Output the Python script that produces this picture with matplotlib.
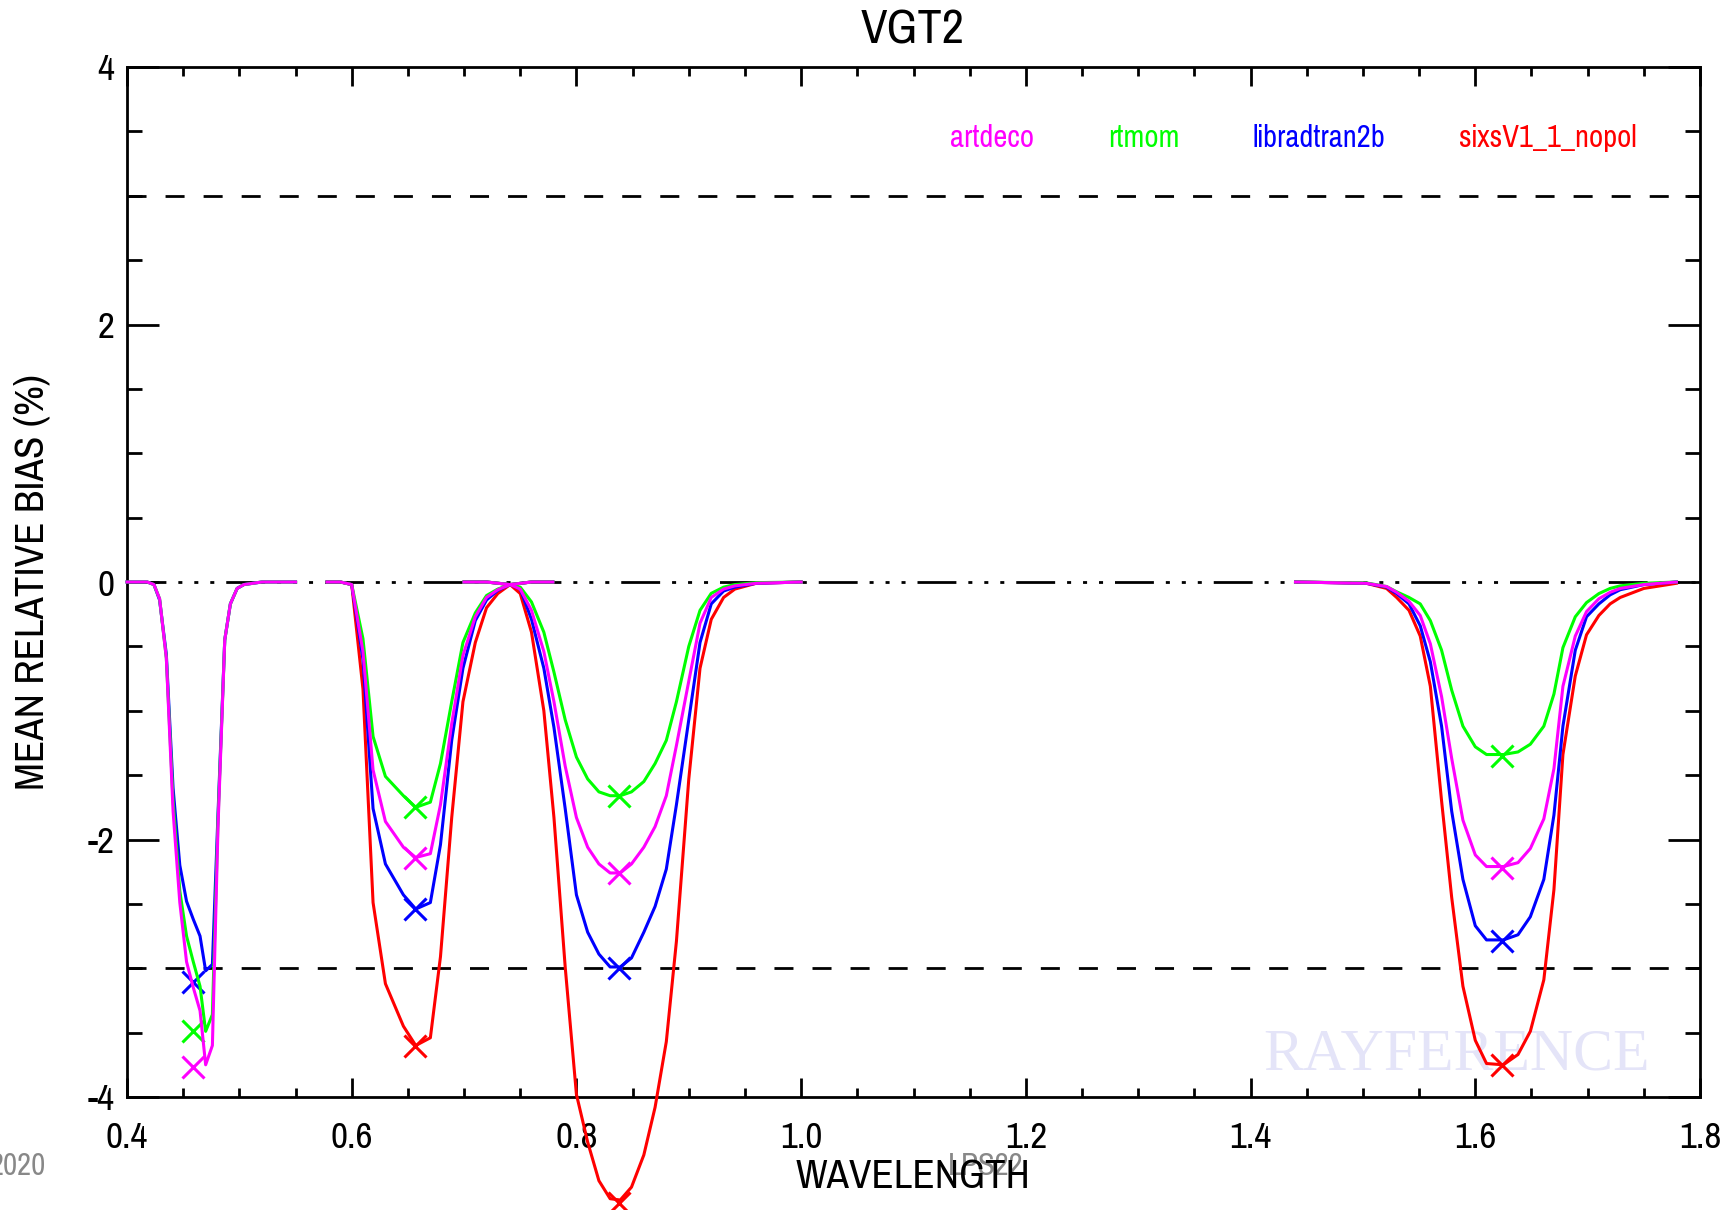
"""
VGT2 band: mean relative bias of RT models vs wavelength
"""

import numpy as np
import matplotlib
matplotlib.use("Agg")
import matplotlib.pyplot as plt
from matplotlib import font_manager
from matplotlib.ticker import MultipleLocator, FormatStrFormatter

# ============== data ==============
TITLE = "VGT2"
MODELS = ["artdeco", "rtmom", "libradtran2b", "sixsV1_1_nopol"]
COLORS = ["#ff00ff", "#00ff00", "#0000ff", "#ff0000"]

# band 1 (blue)
X_B1 = [0.400, 0.418, 0.424, 0.429, 0.435, 0.441, 0.447, 0.453, 0.459, 0.465,
        0.470, 0.476, 0.481, 0.487, 0.492, 0.498, 0.504, 0.520, 0.550]
B1_ARTDECO = [0, 0, -0.02, -0.13, -0.59, -1.78, -2.49, -2.95, -3.15, -3.33,
              -3.75, -3.60, -1.90, -0.45, -0.17, -0.05, -0.02, 0, 0]
B1_RTMOM = [0, 0, -0.02, -0.13, -0.59, -1.70, -2.40, -2.75, -2.95, -3.14,
            -3.49, -3.36, -1.85, -0.45, -0.17, -0.05, -0.02, 0, 0]
B1_LIBRADTRAN = [0, 0, -0.02, -0.14, -0.56, -1.60, -2.20, -2.48, -2.62, -2.75,
                 -3.02, -2.97, -1.80, -0.45, -0.17, -0.05, -0.02, 0, 0]

# band 2 (red)
X_B2 = [0.578, 0.590, 0.600, 0.610, 0.619, 0.630, 0.646, 0.657, 0.670, 0.679,
        0.689, 0.699, 0.710, 0.720, 0.730, 0.741, 0.760, 0.779]
B2_ARTDECO = [0, 0, -0.02, -0.54, -1.46, -1.86, -2.06, -2.14, -2.11, -1.73,
              -1.10, -0.57, -0.27, -0.12, -0.06, -0.02, 0, 0]
B2_RTMOM = [0, 0, -0.02, -0.44, -1.20, -1.51, -1.66, -1.75, -1.71, -1.41,
            -0.93, -0.47, -0.24, -0.105, -0.055, -0.02, 0, 0]
B2_LIBRADTRAN = [0, 0, -0.02, -0.60, -1.76, -2.19, -2.43, -2.54, -2.49, -2.04,
                 -1.23, -0.67, -0.30, -0.14, -0.065, -0.02, 0, 0]
B2_SIXS = [0, 0, -0.02, -0.83, -2.49, -3.12, -3.45, -3.60, -3.54, -2.91,
           -1.83, -0.93, -0.47, -0.20, -0.09, -0.02, 0, 0]

# band 3 (nir)
X_B3 = [0.700, 0.720, 0.741, 0.750, 0.760, 0.771, 0.780, 0.790, 0.800, 0.810,
        0.820, 0.830, 0.839, 0.849, 0.860, 0.870, 0.880, 0.889, 0.900, 0.910,
        0.920, 0.931, 0.941, 0.960, 1.000]
B3_ARTDECO = [0, 0, -0.02, -0.055, -0.22, -0.54, -0.93, -1.43, -1.83, -2.06,
              -2.19, -2.26, -2.26, -2.19, -2.06, -1.90, -1.66, -1.27, -0.77, -0.32,
              -0.12, -0.055, -0.03, -0.01, 0]
B3_RTMOM = [0, 0, -0.02, -0.04, -0.155, -0.39, -0.70, -1.07, -1.36, -1.53,
            -1.63, -1.66, -1.66, -1.63, -1.55, -1.41, -1.23, -0.93, -0.50, -0.22,
            -0.088, -0.04, -0.02, -0.005, 0]
B3_LIBRADTRAN = [0, 0, -0.02, -0.055, -0.29, -0.67, -1.13, -1.76, -2.43, -2.72,
                 -2.89, -2.99, -2.99, -2.92, -2.72, -2.52, -2.23, -1.73, -1.07, -0.47,
                 -0.17, -0.07, -0.04, -0.01, 0]
B3_SIXS = [0, 0, -0.02, -0.09, -0.39, -1.00, -1.83, -2.99, -3.98, -4.35,
           -4.65, -4.79, -4.80, -4.70, -4.45, -4.08, -3.57, -2.79, -1.53, -0.67,
           -0.29, -0.12, -0.055, -0.01, 0]

# band 4 (swir)
X_B4 = [1.440, 1.503, 1.521, 1.530, 1.541, 1.551, 1.560, 1.570, 1.579, 1.589,
        1.600, 1.610, 1.625, 1.638, 1.649, 1.661, 1.670, 1.678, 1.689, 1.699,
        1.710, 1.720, 1.729, 1.750, 1.779]
B4_ARTDECO = [0, -0.01, -0.035, -0.08, -0.15, -0.26, -0.48, -0.89, -1.37, -1.85,
              -2.12, -2.21, -2.21, -2.18, -2.07, -1.84, -1.45, -0.81, -0.42, -0.23,
              -0.13, -0.08, -0.05, -0.02, 0]
B4_RTMOM = [0, -0.007, -0.035, -0.076, -0.12, -0.17, -0.30, -0.53, -0.84, -1.12,
            -1.28, -1.34, -1.34, -1.32, -1.26, -1.12, -0.87, -0.51, -0.27, -0.16,
            -0.09, -0.05, -0.03, -0.01, 0]
B4_LIBRADTRAN = [0, -0.01, -0.04, -0.09, -0.17, -0.34, -0.62, -1.12, -1.78, -2.31,
                 -2.67, -2.78, -2.78, -2.74, -2.60, -2.31, -1.81, -1.12, -0.53, -0.27,
                 -0.17, -0.10, -0.06, -0.02, 0]
B4_SIXS = [0, -0.01, -0.05, -0.12, -0.22, -0.42, -0.81, -1.70, -2.45, -3.14,
           -3.56, -3.74, -3.75, -3.67, -3.49, -3.09, -2.39, -1.34, -0.73, -0.41,
           -0.26, -0.17, -0.12, -0.05, -0.01]

# band averaged bias (crosses)
BAND_CENTERS = [0.459, 0.656, 0.838, 1.624]
MARK_ARTDECO = [-3.77, -2.14, -2.26, -2.22]
MARK_RTMOM = [-3.49, -1.75, -1.66, -1.35]
MARK_LIBRADTRAN = [-3.11, -2.54, -3.00, -2.79]
MARK_SIXS = [np.nan, -3.60, -4.82, -3.75]

# ============== fonts ==============
names = {f.name for f in font_manager.fontManager.ttflist}
FONT = "Pragati Narrow" if "Pragati Narrow" in names else "Liberation Sans"
plt.rcParams["font.family"] = [FONT, "DejaVu Sans"]
plt.rcParams["axes.unicode_minus"] = False
plt.rcParams["lines.scale_dashes"] = False

# ============== plot ==============
fig = plt.figure(figsize=(17.28, 12.10), dpi=100)
ax = fig.add_axes([127 / 1728, 1 - 1097 / 1210, 1573 / 1728, 1030 / 1210])

# reference lines
ax.axhline(3, color="black", lw=2, dashes=(13.7, 13.7), zorder=1)
ax.axhline(-3, color="black", lw=2, dashes=(13.7, 13.7), zorder=1)
ax.axhline(0, color="black", lw=2,
           dashes=(28, 8.6, 2.9, 8.6, 2.9, 8.6, 2.9, 8.6), zorder=1)

bands = [
    (X_B1, [B1_ARTDECO, B1_RTMOM, B1_LIBRADTRAN, None]),
    (X_B2, [B2_ARTDECO, B2_RTMOM, B2_LIBRADTRAN, B2_SIXS]),
    (X_B3, [B3_ARTDECO, B3_RTMOM, B3_LIBRADTRAN, B3_SIXS]),
    (X_B4, [B4_ARTDECO, B4_RTMOM, B4_LIBRADTRAN, B4_SIXS]),
]
marks = [MARK_ARTDECO, MARK_RTMOM, MARK_LIBRADTRAN, MARK_SIXS]
zorders = [6, 5, 4, 3]

for x, series in bands:
    for i, y in enumerate(series):
        if y is None:
            continue
        ax.plot(x, y, color=COLORS[i], lw=2.2, zorder=zorders[i], clip_on=False)

for i, m in enumerate(marks):
    ax.plot(BAND_CENTERS, m, ls="none", marker="x", ms=16, mew=2.2,
            color=COLORS[i], zorder=zorders[i], clip_on=False)

# model names
legend_x = [1.17, 1.305, 1.461, 1.665]
for i, name in enumerate(MODELS):
    ax.text(legend_x[i], 3.45, name, color=COLORS[i], fontsize=24,
            ha="center", va="center")

# watermark
ax.text(1.583, -3.68, "RAYFERENCE", color="#e4e4f8", fontsize=43,
        family="Liberation Serif", ha="center", va="center", zorder=0.5)

ax.set_xlim(0.4, 1.8)
ax.set_ylim(-4, 4)
ax.xaxis.set_major_locator(MultipleLocator(0.2))
ax.xaxis.set_minor_locator(MultipleLocator(0.05))
ax.yaxis.set_major_locator(MultipleLocator(2))
ax.yaxis.set_minor_locator(MultipleLocator(0.5))
ax.xaxis.set_major_formatter(FormatStrFormatter("%.1f"))
ax.yaxis.set_major_formatter(FormatStrFormatter("%d"))
ax.tick_params(which="both", direction="in", top=True, right=True, width=2)
ax.tick_params(axis="x", which="major", length=13.7, pad=17, labelsize=29)
ax.tick_params(axis="x", which="minor", length=6.5)
ax.tick_params(axis="y", which="major", length=23, pad=9, labelsize=29)
ax.tick_params(axis="y", which="minor", length=11)
for s in ax.spines.values():
    s.set_linewidth(2)

fig.text(913 / 1728, 1 - 30 / 1210, TITLE, fontsize=38, ha="center", va="center")
fig.text(913 / 1728, 1 - 1177 / 1210, "WAVELENGTH", fontsize=32,
         ha="center", va="center", zorder=5)
fig.text(32 / 1728, 1 - 582 / 1210, "MEAN RELATIVE BIAS (%)", fontsize=32,
         rotation=90, ha="center", va="center")
fig.text(46 / 1728, 1 - 1166 / 1210, "2020", fontsize=24, color="#888888",
         ha="right", va="center")
fig.text(986 / 1728, 1 - 1166 / 1210, "LPS22", fontsize=24, color="#888888",
         ha="center", va="center", zorder=1)

fig.savefig("out.png", dpi=100)
